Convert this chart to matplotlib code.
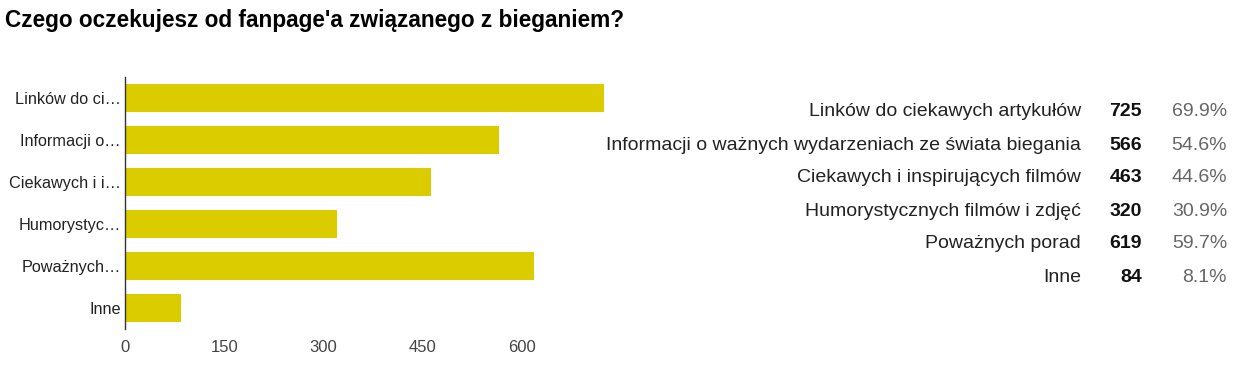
import matplotlib.pyplot as plt

# data
categories = ["Linków do ciekawych artykułów",
              "Informacji o ważnych wydarzeniach ze świata biegania",
              "Ciekawych i inspirujących filmów",
              "Humorystycznych filmów i zdjęć",
              "Poważnych porad",
              "Inne"]
short_labels = ["Linków do ci…", "Informacji o…", "Ciekawych i i…",
                "Humorystyc…", "Poważnych…", "Inne"]
counts = [725, 566, 463, 320, 619, 84]
percents = ["69.9%", "54.6%", "44.6%", "30.9%", "59.7%", "8.1%"]
x_ticks = [0, 150, 300, 450, 600]

plt.rcParams['font.family'] = ['Liberation Sans', 'DejaVu Sans']

fig = plt.figure(figsize=(12.35, 3.82), dpi=100)
fig.patch.set_facecolor('white')

# title
fig.text(5 / 1235, 1 - 20 / 382, "Czego oczekujesz od fanpage'a związanego z bieganiem?",
         fontsize=16.3, fontweight='bold', color='#000000', va='center', ha='left')

# bar chart
ax = fig.add_axes([125 / 1235, 1 - 329 / 382, 496 / 1235, 252 / 382])
ypos = list(range(len(categories)))
ax.barh(ypos, counts, height=0.67, color='#DBCC00')
ax.set_ylim(len(categories) - 0.5, -0.5)
ax.set_xlim(0, 750)
ax.set_yticks(ypos)
ax.set_yticklabels(short_labels, fontsize=11.7, color='#222222')
ax.set_xticks(x_ticks)
ax.set_xticklabels([str(v) for v in x_ticks], fontsize=12, color='#444444')
ax.tick_params(axis='both', length=0)
ax.tick_params(axis='y', pad=3)
ax.tick_params(axis='x', pad=8)
for s in ['top', 'right', 'bottom']:
    ax.spines[s].set_visible(False)
ax.spines['left'].set_color('#333333')
ax.spines['left'].set_linewidth(1)

# table on the right
for i, (cat, n, p) in enumerate(zip(categories, counts, percents)):
    y = 1 - (112 + 33 * i) / 382
    fig.text(1081 / 1235, y, cat, fontsize=14, color='#222222', ha='right', va='center')
    fig.text(1142 / 1235, y, str(n), fontsize=14, fontweight='bold', color='#111111',
             ha='right', va='center')
    fig.text(1227 / 1235, y, p, fontsize=14, color='#666666', ha='right', va='center')

fig.savefig('out.png', dpi=100)
